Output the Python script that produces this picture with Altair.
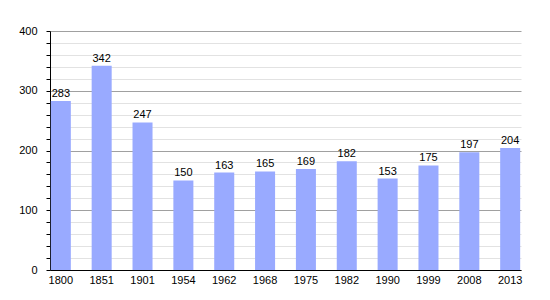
import altair as alt
import pandas as pd

years = ["1800", "1851", "1901", "1954", "1962", "1968", "1975", "1982", "1990", "1999", "2008", "2013"]
population = [283, 342, 247, 150, 163, 165, 169, 182, 153, 175, 197, 204]
y_ticks = list(range(0, 401, 20))

df = pd.DataFrame({"year": years, "pop": population})

font = "Liberation Sans"

x = alt.X("year:N", sort=years, title=None,
          scale=alt.Scale(paddingInner=0.51, paddingOuter=0.02),
          axis=alt.Axis(labelAngle=0, ticks=False, domainColor="black", labelColor="black",
                        labelFont=font, labelFontSize=11, labelPadding=4, grid=False))
y_axis = alt.Axis(values=y_ticks, tickCount=len(y_ticks),
                  labelExpr="datum.value % 100 === 0 ? datum.label : ''",
                  labelOverlap=False,
                  tickSize=4, tickColor="black", domainColor="black",
                  labelColor="black", labelFont=font, labelFontSize=11, labelPadding=9,
                  grid=True,
                  gridColor={"condition": {"test": "datum.value % 100 === 0", "value": "#a0a0a0"},
                             "value": "#e2e2e2"})
y = alt.Y("pop:Q", title=None, scale=alt.Scale(domain=[0, 400], nice=False), axis=y_axis)

bars = alt.Chart(df).mark_bar(color="#99aaff").encode(x=x, y=y)
labels = alt.Chart(df).mark_text(baseline="bottom", dy=-2, font=font, fontSize=11, color="black").encode(
    x=alt.X("year:N", sort=years), y=y, text="pop:Q")

chart = (bars + labels).properties(
    width=471, height=239,
    autosize=alt.AutoSizeParams(type="none"),
    padding={"left": 50, "top": 31, "right": 29, "bottom": 30},
    background="white",
).configure_view(stroke=None)

chart.save("out.html", embed_options={"renderer": "svg", "actions": False})
